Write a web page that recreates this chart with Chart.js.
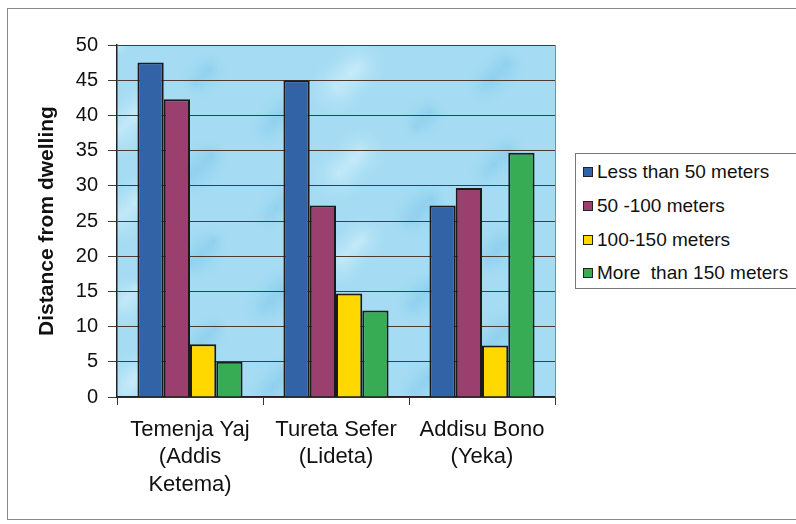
<!DOCTYPE html>
<html>
<head>
<meta charset="utf-8">
<script src="https://cdn.jsdelivr.net/npm/chart.js@4.4.0/dist/chart.umd.min.js"></script>
<style>
  html, body { margin: 0; padding: 0; background: #fff; }
  #wrap { position: relative; width: 796px; height: 524px; overflow: hidden; }
  #frame { position: absolute; left: 7px; top: 8px; width: 800px; height: 512px; border: 1px solid #8a8a8a; box-sizing: border-box; pointer-events: none; }
  canvas { position: absolute; left: 0; top: 0; }
  #legend { position: absolute; left: 575px; top: 153px; width: 224px; height: 136px; border: 1px solid #777; box-sizing: border-box; background: #fff;
            font-family: "Liberation Sans", Arial, sans-serif; font-size: 19px; color: #111; }
  .item { position: absolute; left: 7px; height: 22px; line-height: 22px; white-space: pre; }
  .sw { display: inline-block; width: 8px; height: 8px; border: 1px solid #222; margin-right: 4px; vertical-align: 1px; }
</style>
</head>
<body>
<div id="wrap">
  <canvas id="c" width="796" height="524"></canvas>
  <div id="frame"></div>
  <div id="legend"></div>
</div>
<script>
// Sites (multi-line labels) and distance classes
const categories = [
  ["Temenja Yaj", "(Addis", "Ketema)"],
  ["Tureta Sefer", "(Lideta)"],
  ["Addisu Bono", "(Yeka)"]
];
const seriesNames = ["Less than 50 meters", "50 -100 meters", "100-150 meters", "More  than 150 meters"];
const lessThan50 = [47.5, 45, 27.2];
const from50to100 = [42.3, 27.2, 29.7];
const from100to150 = [7.5, 14.7, 7.3];
const moreThan150 = [5, 12.3, 34.7];
const yTicks = [0, 5, 10, 15, 20, 25, 30, 35, 40, 45, 50];
const colors = ["#3163a6", "#9a3f6e", "#ffd800", "#38ab55"];

const seriesValues = [lessThan50, from50to100, from100to150, moreThan150];
const FONT = '"Liberation Sans", Arial, sans-serif';

// mottled sky-blue plot background
const plotBackground = {
  id: 'plotBackground',
  beforeDraw(chart) {
    const { ctx, chartArea: a } = chart;
    ctx.save();
    ctx.beginPath();
    ctx.rect(a.left, a.top, a.width, a.height);
    ctx.clip();
    ctx.fillStyle = '#a5dcf3';
    ctx.fillRect(a.left, a.top, a.width, a.height);
    for (let i = 0; i < 90; i++) {
      const x = a.left + ((i * 73.3) % a.width);
      const y = a.top + ((i * 131.7) % a.height);
      const r = 14 + (i * 7) % 22;
      const g = ctx.createRadialGradient(x, y, 0, x, y, r);
      const light = i % 3 === 0;
      g.addColorStop(0, light ? 'rgba(215,242,252,0.55)' : 'rgba(120,195,232,0.35)');
      g.addColorStop(1, 'rgba(165,220,243,0)');
      ctx.fillStyle = g;
      ctx.beginPath();
      ctx.ellipse(x, y, r * 1.4, r, (i % 5) * 0.6, 0, Math.PI * 2);
      ctx.fill();
    }
    ctx.restore();
  },
  afterDraw(chart) {
    const { ctx, chartArea: a } = chart;
    ctx.save();
    ctx.strokeStyle = '#8a8a8a';
    ctx.lineWidth = 1;
    ctx.beginPath();
    ctx.moveTo(a.right + 0.5, a.top);
    ctx.lineTo(a.right + 0.5, a.bottom);
    ctx.stroke();
    ctx.restore();
  }
};

const chart = new Chart(document.getElementById('c'), {
  type: 'bar',
  data: {
    labels: categories,
    datasets: seriesNames.map((name, i) => ({
      label: name,
      data: seriesValues[i],
      backgroundColor: colors[i],
      borderColor: '#1a1a1a',
      borderWidth: 2,
      borderSkipped: 'bottom',
      categoryPercentage: 0.72,
      barPercentage: 1.0
    }))
  },
  options: {
    responsive: false,
    animation: false,
    devicePixelRatio: 1,
    layout: { padding: { left: 20, right: 241, top: 45, bottom: 0 } },
    plugins: { legend: { display: false }, tooltip: { enabled: false } },
    scales: {
      x: {
        grid: { display: true, drawOnChartArea: false, drawTicks: true, tickLength: 8, color: '#333', lineWidth: 1 },
        border: { display: true, color: '#222', width: 1.5 },
        ticks: { color: '#111', font: { family: FONT, size: 22, lineHeight: 1.25 }, padding: 11, maxRotation: 0, autoSkip: false },
        afterFit(scale) { scale.height = 127; }
      },
      y: {
        min: 0, max: 50,
        afterBuildTicks(scale) { scale.ticks = yTicks.map(v => ({ value: v })); },
        grid: { color: '#4a3a30', lineWidth: 1, tickLength: 9 },
        border: { display: true, color: '#222', width: 1.5 },
        ticks: { color: '#111', font: { family: FONT, size: 20 }, padding: 10 },
        title: { display: true, text: 'Distance from dwelling', color: '#111', font: { family: FONT, size: 21, weight: 'bold' }, padding: { top: 15, bottom: 0 } },
        afterFit(scale) { scale.width = 97; }
      }
    }
  },
  plugins: [plotBackground]
});

// legend box built from the series names and colours
const legend = document.getElementById('legend');
const rowTops = [7, 41, 75, 108];
seriesNames.forEach((name, i) => {
  const d = document.createElement('div');
  d.className = 'item';
  d.style.top = rowTops[i] + 'px';
  const sw = document.createElement('span');
  sw.className = 'sw';
  sw.style.background = colors[i];
  d.appendChild(sw);
  d.appendChild(document.createTextNode(name));
  legend.appendChild(d);
});
</script>
</body>
</html>
